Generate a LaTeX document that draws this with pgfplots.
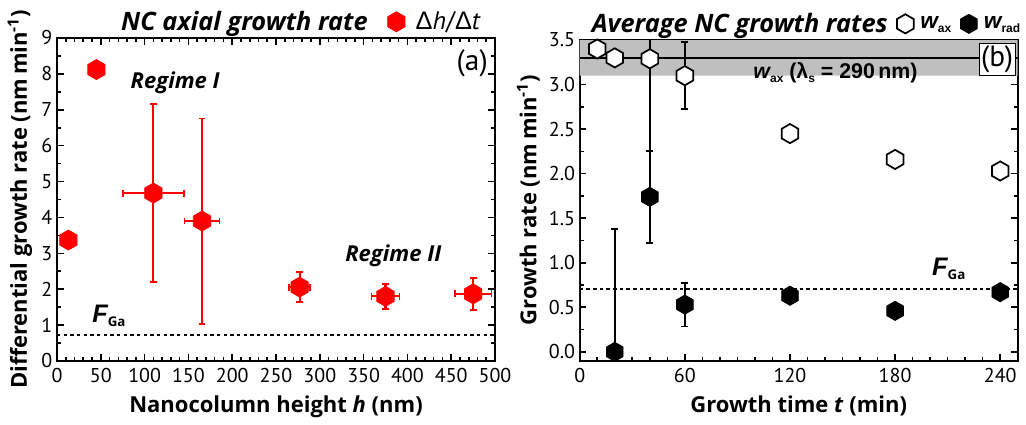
\documentclass[border=0pt]{standalone}
\usepackage{fontspec}
\setmainfont{PT Sans}
\newfontfamily\labelfont{Open Sans}
\newfontfamily\arialfont{Liberation Sans}
\usepackage{pgfplots}
\pgfplotsset{compat=1.18}

% hexagon plot mark, vertex pointing up; \pgfplotmarksize is the circumradius
\pgfdeclareplotmark{hexagon}{%
  \pgfpathmoveto{\pgfpointpolar{90}{\pgfplotmarksize}}%
  \pgfpathlineto{\pgfpointpolar{150}{\pgfplotmarksize}}%
  \pgfpathlineto{\pgfpointpolar{210}{\pgfplotmarksize}}%
  \pgfpathlineto{\pgfpointpolar{270}{\pgfplotmarksize}}%
  \pgfpathlineto{\pgfpointpolar{330}{\pgfplotmarksize}}%
  \pgfpathlineto{\pgfpointpolar{30}{\pgfplotmarksize}}%
  \pgfpathclose
  \pgfusepathqfillstroke
}

\newcommand{\fs}[1]{\fontsize{#1pt}{#1pt}\selectfont}
\newcommand{\FGa}{{\arialfont\fs{19}\bfseries\itshape F}{\labelfont\fs{10}\bfseries\raisebox{-3pt}{Ga}}}

\pgfplotsset{
  panel/.style={
    scale only axis,
    width=328.5pt,
    axis line style={line width=1.7pt},
    tick align=inside,
    major tick length=5pt,
    minor tick length=3pt,
    every tick/.style={black, line width=1.2pt},
    tick label style={font=\fs{15}},
    xticklabel style={yshift=-2pt},
    /pgf/number format/assume math mode=true,
    label style={font=\labelfont\fs{16.5}\bfseries},
    xlabel style={yshift=-3pt},
    legend style={draw=none, fill=none, legend columns=-1,
      font=\fs{19}, at={(0.5,1)}, anchor=south, yshift=0pt,
      /tikz/every even column/.append style={column sep=13pt},
      /tikz/every odd column/.append style={column sep=6pt}},
    legend cell align=left,
  },
  hexred/.style={only marks, mark=hexagon, mark size=7.5pt,
    mark options={fill=red, draw=red, line width=0.6pt}},
  hexopen/.style={only marks, mark=hexagon, mark size=7.2pt,
    mark options={fill=white, draw=black, line width=1.3pt}},
  hexfull/.style={only marks, mark=hexagon, mark size=7.2pt,
    mark options={fill=black, draw=black, line width=0.6pt}},
  /pgfplots/ebars/.style={
    /pgfplots/error bars/error bar style={#1, line width=1.6pt},
    /pgfplots/error bars/error mark options={rotate=90, #1, mark size=2.6pt, line width=1.3pt}},
}

\pgfplotstableread{
h      r     dh   dr
13     3.37  0    0
45     8.12  0    0
110    4.68  35   2.48
165.5  3.90  20   2.86
277    2.06  12   0.41
375    1.80  16   0.35
475    1.87  21   0.45
}\axialrate

\pgfplotstableread{
t    w     dw
10   3.40  0
20   3.30  0
40   3.29  1.04
60   3.10  0.375
120  2.45  0.06
180  2.16  0.03
240  2.03  0.03
}\wax

\pgfplotstableread{
t    w     dw
20   0.00  1.38
40   1.74  0.52
60   0.53  0.245
120  0.63  0.06
180  0.46  0.02
240  0.67  0.02
}\wrad

\begin{document}
\begin{tikzpicture}
\path[use as bounding box] (0,0) rectangle (769.5pt,318.75pt);

% ---------------- (a) differential axial growth rate ----------------
\begin{axis}[panel,
  at={(42.75pt,48pt)}, anchor=south west, height=242.25pt,
  xmin=0, xmax=500, ymin=0, ymax=9,
  xtick={0,50,...,500}, minor x tick num=4,
  ytick={0,1,...,9}, minor y tick num=1,
  xlabel={Nanocolumn height \textit{h} (nm)},
  ylabel={Differential growth rate (nm\,min\textsuperscript{-1})},
  legend style={at={(0.548,1)}},
]
\addlegendimage{empty legend}
\addlegendentry{\labelfont\fs{19}\bfseries\itshape NC axial growth rate\hspace{14pt}}
\addlegendimage{hexred}
\addlegendentry{{\arialfont Δ}\textit{h}/{\arialfont Δ}\textit{t}}

\addplot[black, line width=1.5pt, dash pattern=on 2.6pt off 2.4pt, forget plot]
  coordinates {(0,0.73) (500,0.73)};

\addplot[hexred, forget plot, ebars=red,
  error bars/.cd, x dir=both, x explicit, y dir=both, y explicit]
  table[x=h, y=r, x error=dh, y error=dr] {\axialrate};

\node[font=\labelfont\fs{16.5}\bfseries\itshape] at (axis cs:135,7.75) {Regime I};
\node[font=\labelfont\fs{16.5}\bfseries\itshape] at (axis cs:384,2.92) {Regime II};
\node[font=\fs{22}] at (axis cs:474,8.3) {(a)};
\node[anchor=west, inner sep=0pt] at (axis cs:40,1.25) {\FGa};
\end{axis}

% ---------------- (b) average growth rates ----------------
\begin{axis}[panel,
  at={(434.8pt,48.2pt)}, anchor=south west, height=240.5pt,
  xmin=0, xmax=250, ymin=-0.1, ymax=3.5,
  xtick={0,60,...,240}, minor x tick num=5,
  ytick={0,0.5,...,3.5}, minor y tick num=1,
  yticklabel style={/pgf/number format/.cd, fixed, fixed zerofill, precision=1},
  xlabel={Growth time \textit{t} (min)},
  ylabel={Growth rate (nm\,min\textsuperscript{-1})},
  legend style={at={(0.512,1)},
    /tikz/every even column/.append style={column sep=5pt},
    /tikz/every odd column/.append style={column sep=3pt}},
]
\addlegendimage{empty legend}
\addlegendentry{\labelfont\fs{19}\bfseries\itshape Average NC growth rates\hspace{16pt}}
\addlegendimage{hexopen}
\addlegendentry{{\arialfont\fs{17}\bfseries\itshape w}{\arialfont\fs{9}\bfseries\raisebox{-3pt}{ax}}}
\addlegendimage{hexfull}
\addlegendentry{{\arialfont\fs{17}\bfseries\itshape w}{\arialfont\fs{9}\bfseries\raisebox{-3pt}{rad}}}

% spread of the axial rate for lambda_s = 290 nm
\addplot[draw=none, fill=black!25, forget plot]
  coordinates {(0,3.1) (250,3.1) (250,3.5) (0,3.5)} \closedcycle;
\addplot[black, line width=1.6pt, forget plot]
  coordinates {(0,3.3) (250,3.3)};
\addplot[black, line width=1.5pt, dash pattern=on 2.6pt off 2.4pt, forget plot]
  coordinates {(0,0.70) (250,0.70)};

\addplot[hexfull, forget plot, ebars=black,
  error bars/.cd, y dir=both, y explicit]
  table[x=t, y=w, y error=dw] {\wrad};
\addplot[hexopen, forget plot, ebars=black,
  error bars/.cd, y dir=both, y explicit]
  table[x=t, y=w, y error=dw] {\wax};

\node[font=\arialfont\fs{16}\bfseries] at (axis cs:146,3.13)
  {{\itshape w}{\fs{9}\raisebox{-3pt}{ax}} (λ{\fs{9}\raisebox{-3pt}{s}} = 290\,nm)};
\node[anchor=north east, draw=black, line width=0.6pt, fill=white,
  inner sep=1.5pt, font=\fs{22}] at (rel axis cs:0.995,0.99) {(b)};
\node[anchor=west, inner sep=0pt] at (axis cs:201,0.93) {\FGa};
\end{axis}
\end{tikzpicture}
\end{document}
